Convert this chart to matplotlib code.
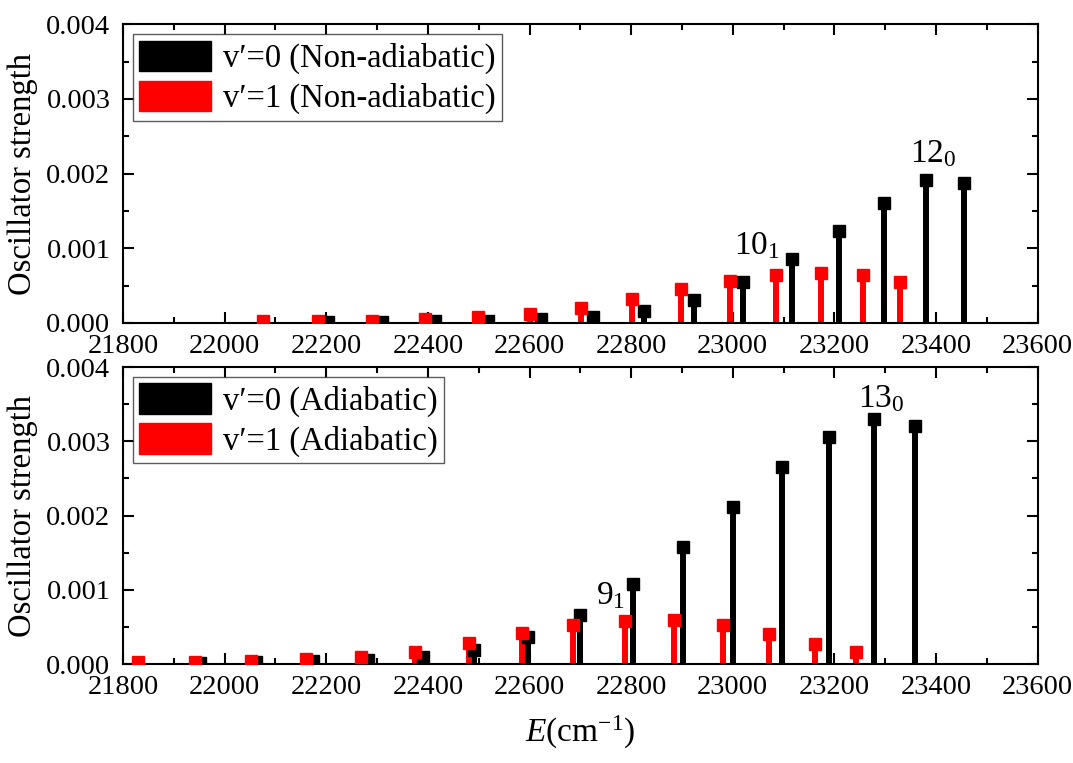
import matplotlib
matplotlib.use("Agg")
import matplotlib.pyplot as plt
from matplotlib.patches import Patch
from matplotlib.ticker import MultipleLocator, FormatStrFormatter

plt.rcParams['font.family'] = ['Liberation Serif', 'DejaVu Serif']
plt.rcParams['mathtext.fontset'] = 'custom'
plt.rcParams['mathtext.rm'] = 'Liberation Serif'
plt.rcParams['mathtext.it'] = 'Liberation Serif:italic'

# ---- Top panel (Non-adiabatic) ----
na_v0_E = [22204, 22309, 22414, 22519, 22622, 22725, 22826, 22924, 23021, 23117, 23209, 23297, 23381, 23454]
na_v0_f = [0.00001, 0.00001, 0.00002, 0.00003, 0.00005, 0.00008, 0.000165, 0.00031, 0.00055, 0.00086, 0.00123, 0.00161, 0.00191, 0.00187]
na_v1_E = [22076, 22184, 22290, 22394, 22498, 22600, 22702, 22801, 22898, 22994, 23085, 23173, 23256, 23330]
na_v1_f = [0.00002, 0.00002, 0.00002, 0.00005, 0.00008, 0.000116, 0.000205, 0.000317, 0.00045, 0.000566, 0.000647, 0.000665, 0.000643, 0.000545]

# ---- Bottom panel (Adiabatic) ----
ad_v0_E = [21952, 22062, 22173, 22283, 22390, 22491, 22598, 22700, 22803, 22903, 23001, 23097, 23190, 23278, 23359]
ad_v0_f = [0.00002, 0.00003, 0.00004, 0.00006, 0.0001, 0.00019, 0.000363, 0.000664, 0.00108, 0.001575, 0.00212, 0.00265, 0.00306, 0.0033, 0.00321]
ad_v1_E = [21830, 21942, 22051, 22160, 22268, 22375, 22480, 22585, 22686, 22787, 22885, 22980, 23072, 23161, 23243]
ad_v1_f = [0.00003, 0.00003, 0.00004, 0.00007, 0.0001, 0.00017, 0.00028, 0.000417, 0.000525, 0.000587, 0.00059, 0.000525, 0.000408, 0.000273, 0.00016]

top_labels = ["v\u2032=0 (Non-adiabatic)", "v\u2032=1 (Non-adiabatic)"]
bot_labels = ["v\u2032=0 (Adiabatic)", "v\u2032=1 (Adiabatic)"]

top_ann = [("10$_1$", 23048, 0.00103), ("12$_0$", 23395, 0.00226)]
bot_ann = [("9$_1$", 22759, 0.00092), ("13$_0$", 23292, 0.00357)]

xlim = (21800, 23600)
ylim = (0.0, 0.004)

fig = plt.figure(figsize=(10.73, 7.63), dpi=100)
ax1 = fig.add_axes([0.1146, 0.5767, 0.8525, 0.3915])
ax2 = fig.add_axes([0.1146, 0.1294, 0.8525, 0.3896])

def draw(ax, E0, f0, E1, f1, labels, anns):
    ax.vlines(E0, 0, f0, color='black', linewidth=4.3, zorder=2)
    ax.plot(E0, f0, 's', color='black', ms=9, zorder=3)
    ax.vlines(E1, 0, f1, color='#ff0000', linewidth=4.3, zorder=2)
    ax.plot(E1, f1, 's', color='#ff0000', ms=9, zorder=3)
    ax.set_xlim(*xlim)
    ax.set_ylim(*ylim)
    ax.xaxis.set_major_locator(MultipleLocator(200))
    ax.xaxis.set_minor_locator(MultipleLocator(100))
    ax.yaxis.set_major_locator(MultipleLocator(0.001))
    ax.yaxis.set_minor_locator(MultipleLocator(0.0005))
    ax.yaxis.set_major_formatter(FormatStrFormatter('%.3f'))
    ax.tick_params(which='both', direction='in', top=True, right=True, width=1.5, labelsize=20.5)
    ax.tick_params(which='major', length=8)
    ax.tick_params(which='minor', length=4.5)
    ax.tick_params(axis='y', pad=9)
    ax.tick_params(axis='x', pad=8)
    for s in ax.spines.values():
        s.set_linewidth(1.5)
    ax.set_ylabel("Oscillator strength", fontsize=23.5, labelpad=6)
    handles = [Patch(facecolor='black', edgecolor='black'), Patch(facecolor='#ff0000', edgecolor='#ff0000')]
    leg = ax.legend(handles, labels, loc='upper left', fontsize=23.5, handlelength=2.2,
                    handleheight=1.05, handletextpad=0.35, labelspacing=0.2,
                    borderpad=0.2, borderaxespad=0.3, frameon=True, fancybox=False)
    leg.get_frame().set_edgecolor('#333333')
    leg.get_frame().set_linewidth(1.0)
    for txt, x, y in anns:
        ax.text(x, y, txt, fontsize=24, ha='center', va='center')

draw(ax1, na_v0_E, na_v0_f, na_v1_E, na_v1_f, top_labels, top_ann)
draw(ax2, ad_v0_E, ad_v0_f, ad_v1_E, ad_v1_f, bot_labels, bot_ann)
ax2.set_xlabel("$E$(cm$^{\\mathrm{-1}}$)", fontsize=24, labelpad=10)

fig.savefig("out.png", dpi=100)
